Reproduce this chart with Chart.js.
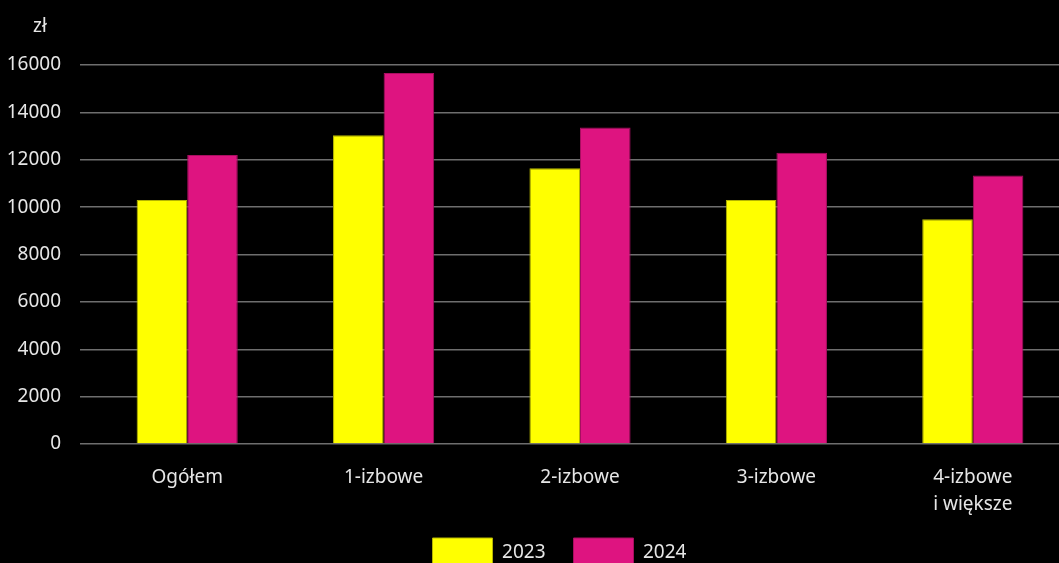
<!DOCTYPE html>
<html>
<head>
<meta charset="utf-8">
<script src="https://cdn.jsdelivr.net/npm/chart.js@4"></script>
<style>
  html, body { margin: 0; padding: 0; background: #000; overflow: hidden; }
  #wrap { position: relative; width: 1059px; height: 563px; overflow: hidden; }
  #box { position: absolute; left: 0; top: 0; width: 1118px; height: 606px; }
  #unit { position: absolute; left: 33px; top: 16px; color: #e6e6e6;
          font: 19px "Noto Sans", sans-serif; line-height: 1; }
</style>
</head>
<body>
<div id="wrap">
  <div id="box"><canvas id="chart"></canvas></div>
  <span id="unit">zł</span>
</div>
<script>
// data
const categories = ["Ogółem", "1-izbowe", "2-izbowe", "3-izbowe", ["4-izbowe", "i większe"]];
const seriesNames = ["2023", "2024"];
const values2023 = [10300, 13030, 11640, 10300, 9490];
const values2024 = [12200, 15660, 13360, 12300, 11340];
const yTicks = [0, 2000, 4000, 6000, 8000, 10000, 12000, 14000, 16000];

const textColor = "#e6e6e6";
const gridColor = "#6e6e6e";
const font = { family: "'Noto Sans', sans-serif", size: 19 };

// nudge the legend closer to the axis labels and centre it on the page
const moveLegend = {
    id: "moveLegend",
    afterLayout(chart) {
        const lg = chart.legend;
        lg.top -= 28;
        lg.bottom -= 28;
        lg.left += 24;
        lg.right += 24;
    },
};

new Chart(document.getElementById("chart"), {
    type: "bar",
    data: {
        labels: categories,
        datasets: [
            {
                label: seriesNames[0],
                data: values2023,
                backgroundColor: "#ffff00",
                borderColor: "#b5b500",
                borderWidth: 1,
            },
            {
                label: seriesNames[1],
                data: values2024,
                backgroundColor: "#de1480",
                borderColor: "#a80e60",
                borderWidth: 1,
            },
        ],
    },
    options: {
        responsive: true,
        maintainAspectRatio: false,
        animation: false,
        layout: { padding: { top: 65, right: 47, left: 0, bottom: 0 } },
        datasets: { bar: { categoryPercentage: 0.515, barPercentage: 1.0 } },
        plugins: {
            legend: {
                position: "bottom",
                labels: {
                    color: textColor,
                    font: font,
                    boxWidth: 60,
                    boxHeight: 30,
                    padding: 28,
                },
            },
            tooltip: { enabled: false },
        },
        scales: {
            x: {
                grid: { display: false, drawTicks: false },
                border: { display: false },
                ticks: {
                    color: textColor,
                    font: { ...font, lineHeight: 1.42 },
                    padding: 20,
                    maxRotation: 0,
                },
            },
            y: {
                min: 0,
                max: 16000,
                afterFit: (scale) => { scale.width = 89; },
                afterBuildTicks: (scale) => { scale.ticks = yTicks.map((v) => ({ value: v })); },
                grid: { color: gridColor, lineWidth: 1.5, tickLength: 9 },
                border: { display: false },
                ticks: {
                    color: textColor,
                    font: font,
                    padding: 19,
                    callback: (v) => String(v),
                },
            },
        },
    },
    plugins: [moveLegend],
});
</script>
</body>
</html>
